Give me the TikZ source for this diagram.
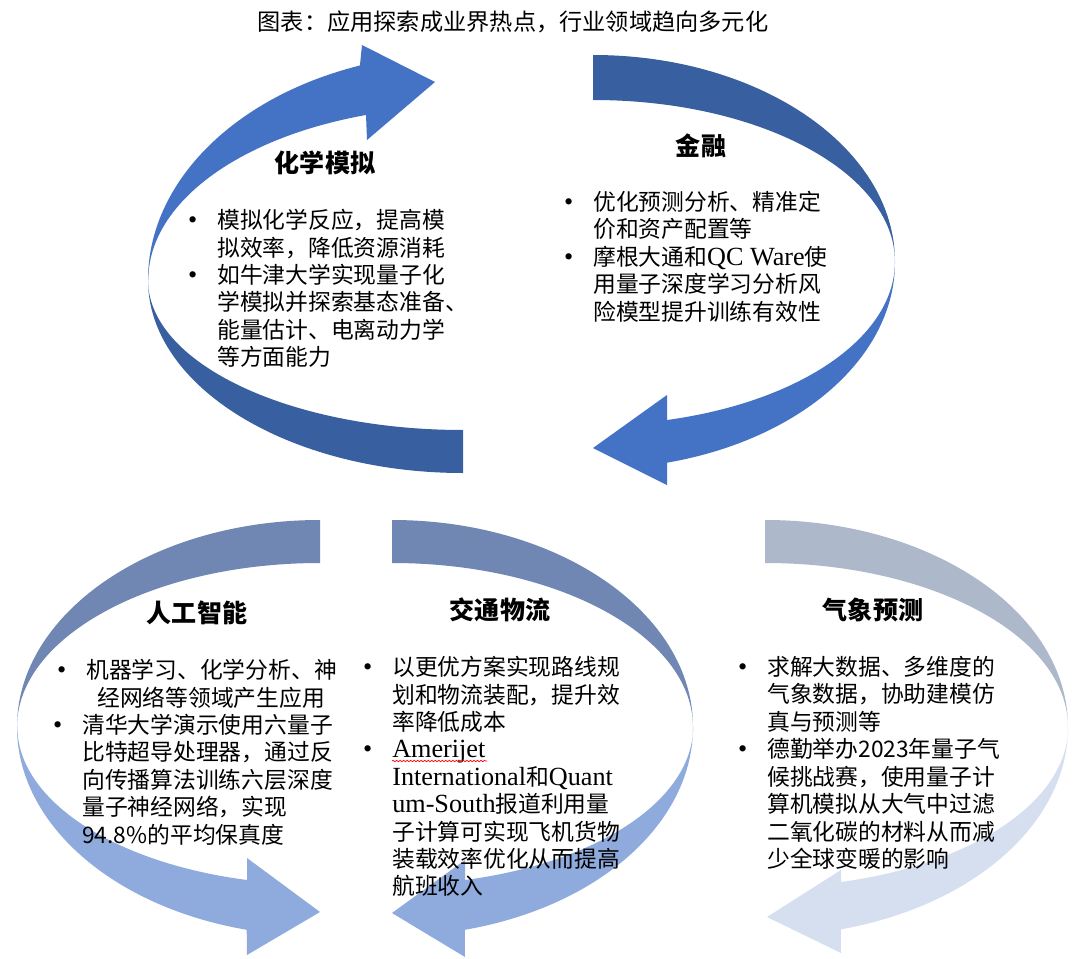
\documentclass[tikz,border=0pt]{standalone}
\usepackage{fontspec}
\setmainfont{Noto Sans CJK SC}
\newfontfamily\latinserif[Scale=1.15]{Liberation Serif}
\usetikzlibrary{calc,positioning,decorations.pathmorphing}

\definecolor{chemfront}{HTML}{4472C4}
\definecolor{chemback}{HTML}{385FA0}
\definecolor{aifront}{HTML}{8FAADC}
\definecolor{aiback}{HTML}{6F87B2}
\definecolor{wxfront}{HTML}{D6DFF0}
\definecolor{wxback}{HTML}{ADB9CB}

\tikzset{
  heading/.style={font=\fontsize{17.8}{20}\selectfont\bfseries, inner sep=0pt},
  bodytext/.style={font=\fontsize{16.2}{19.5}\selectfont, align=left, anchor=north west, inner sep=0pt},
}
\newcommand{\bul}{\leavevmode\llap{{\latinserif\textbullet}\hspace{0.5cm}}}

\begin{document}
\begin{tikzpicture}[x=0.025cm, y=-0.025cm]
\fill[white] (0,0) rectangle (1080,959);
\useasboundingbox (0,0) rectangle (1080,959);

\fill[chemback] (463,473) arc[start angle=90, end angle=180, x radius=315, y radius=193]
  arc[start angle=180, end angle=90, x radius=315, y radius=150] -- cycle;
\fill[chemfront] (148,280) arc[start angle=180, end angle=250.9, x radius=315, y radius=227]
  -- (362,45) -- (435,82) -- (367,140) -- (366,115)
  arc[start angle=252, end angle=180, x radius=315, y radius=173] -- cycle;

\fill[chemback] (593,55) arc[start angle=270, end angle=360, x radius=302, y radius=207]
  arc[start angle=0, end angle=-90, x radius=302, y radius=162] -- cycle;
\fill[chemfront] (895,262) arc[start angle=0, end angle=75.8, x radius=302, y radius=207]
  -- (667,485) -- (593,448) -- (667,395) -- (667,420)
  arc[start angle=75.8, end angle=0, x radius=302, y radius=163] -- cycle;

\fill[aiback] (320,520) arc[start angle=270, end angle=180, x radius=303, y radius=207]
  arc[start angle=180, end angle=270, x radius=303, y radius=164] -- cycle;
\fill[aifront] (17,727) arc[start angle=180, end angle=104, x radius=303, y radius=209]
  -- (247,955) -- (320,912) -- (247,858) -- (247,880)
  arc[start angle=104, end angle=180, x radius=303, y radius=158] -- cycle;

\fill[aiback] (392,520) arc[start angle=270, end angle=360, x radius=301, y radius=207]
  arc[start angle=0, end angle=-90, x radius=301, y radius=164] -- cycle;
\fill[aifront] (693,727) arc[start angle=0, end angle=76, x radius=301, y radius=209]
  -- (465,957) -- (392,913) -- (465,860) -- (465,880)
  arc[start angle=76, end angle=0, x radius=301, y radius=158] -- cycle;

\fill[wxback] (765,520) arc[start angle=270, end angle=360, x radius=303, y radius=207]
  arc[start angle=0, end angle=-90, x radius=303, y radius=164] -- cycle;
\fill[wxfront] (1068,727) arc[start angle=0, end angle=75.5, x radius=303, y radius=209]
  -- (841,953) -- (767,917) -- (841,870) -- (841,882)
  arc[start angle=75.5, end angle=0, x radius=303, y radius=160] -- cycle;

\node[font=\fontsize{16.5}{18}\selectfont, inner sep=0pt] (figtitle) at (513,22) {图表：应用探索成业界热点，行业领域趋向多元化};

\node[heading] (chemhead) at (325,163) {化学模拟};
\node[bodytext] (chembody) at (217,209) {\bul 模拟化学反应，提高模\\
拟效率，降低资源消耗\\
\bul 如牛津大学实现量子化\\
学模拟并探索基态准备、\\
能量估计、电离动力学\\
等方面能力};

\node[heading] (finhead) at (701,146) {金融};
\node[bodytext] (finbody) at (593,191) {\bul 优化预测分析、精准定\\
价和资产配置等\\
\bul 摩根大通和{\latinserif QC Ware}使\\
用量子深度学习分析风\\
险模型提升训练有效性};

\node[heading] (aihead) at (197,613) {人工智能};
\node[bodytext] (aibody) at (82,659) {\leavevmode\hspace{0.1cm}\bul 机器学习、化学分析、神\\
\hspace{0.375cm}经网络等领域产生应用\\
\bul 清华大学演示使用六量子\\
比特超导处理器，通过反\\
向传播算法训练六层深度\\
量子神经网络，实现\\
94.8\%的平均保真度};

\node[heading] (loghead) at (500,610) {交通物流};
\node[bodytext] (logbody) at (392,656) {\bul 以更优方案实现路线规\\
划和物流装配，提升效\\
率降低成本\\
\bul {\latinserif Amerijet}\\
{\latinserif International}和{\latinserif Quant}\\
{\latinserif um-South}报道利用量\\
子计算可实现飞机货物\\
装载效率优化从而提高\\
航班收入};
\coordinate (typoL) at (392,761);
\coordinate (typoR) at (487,761);
\draw[red, line width=0.5pt, decorate, decoration={snake, amplitude=0.5pt, segment length=2.5pt}] (typoL) -- (typoR);

\node[heading] (wxhead) at (873,610) {气象预测};
\node[bodytext] (wxbody) at (767,656) {\bul 求解大数据、多维度的\\
气象数据，协助建模仿\\
真与预测等\\
\bul 德勤举办2023年量子气\\
候挑战赛，使用量子计\\
算机模拟从大气中过滤\\
二氧化碳的材料从而减\\
少全球变暖的影响};
\end{tikzpicture}
\end{document}
